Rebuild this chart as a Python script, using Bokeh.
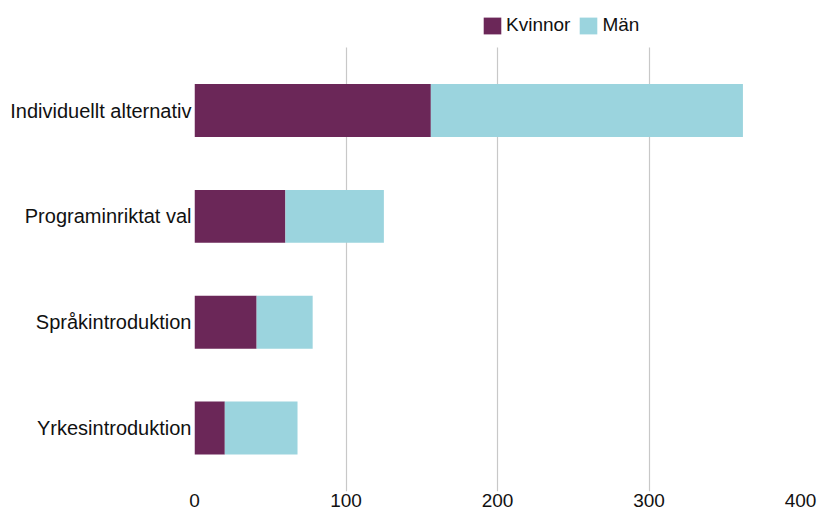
from bokeh.plotting import figure
from bokeh.models import ColumnDataSource, Range1d, Legend, LegendItem, FixedTicker
from bokeh.embed import file_html
from bokeh.resources import INLINE

categories = ["Individuellt alternativ", "Programinriktat val", "Språkintroduktion", "Yrkesintroduktion"]
kvinnor = [156, 60, 41, 20]
man = [206, 65, 37, 48]
series = ["Kvinnor", "Män"]
colors = ["#6B2758", "#9BD4DE"]
x_ticks = [0, 100, 200, 300, 400]

n = len(categories)
ypos = [n - 1 - i for i in range(n)]  # first category at the top

source = ColumnDataSource(data=dict(y=ypos, Kvinnor=kvinnor, Män=man))

FONT = "Liberation Sans"

p = figure(
    width=817, height=509,
    y_range=Range1d(-0.6, 4.04),
    x_range=Range1d(0, 400),
    output_backend="svg", toolbar_location=None,
    min_border_left=194, min_border_right=17, min_border_top=0, min_border_bottom=10,
)

renderers = p.hbar_stack(series, y="y", height=0.5, color=colors, source=source, line_color=None)

p.outline_line_color = None
p.ygrid.grid_line_color = None
p.xgrid.grid_line_color = "#c8c8c8"
p.xgrid.grid_line_width = 1.2
p.xgrid.cross_bounds = (-0.6, 3.6)
p.xaxis.ticker = x_ticks
p.yaxis.ticker = FixedTicker(ticks=ypos)
p.yaxis.major_label_overrides = {y: c for y, c in zip(ypos, categories)}

for ax in (p.xaxis, p.yaxis):
    ax.axis_line_color = None
    ax.major_tick_line_color = None
    ax.minor_tick_line_color = None
    ax.major_tick_out = 0
    ax.major_tick_in = 0
    ax.minor_tick_out = 0
    ax.major_label_text_font = FONT
    ax.major_label_text_color = "#111111"

p.xaxis.major_label_text_font_size = "19px"
p.yaxis.major_label_text_font_size = "20px"
p.xaxis.major_label_standoff = 2
p.yaxis.major_label_standoff = 3

legend = Legend(
    items=[LegendItem(label=s, renderers=[r]) for s, r in zip(series, renderers)],
    orientation="horizontal",
    location=(287, 455),
    padding=5, spacing=7, label_standoff=3,
    glyph_width=22, glyph_height=21,
    label_text_font=FONT, label_text_font_size="19px", label_text_color="#111111",
    label_height=21,
    border_line_color=None, background_fill_alpha=0,
)
p.add_layout(legend, "center")

open("out.html", "w").write(file_html(p, INLINE))
